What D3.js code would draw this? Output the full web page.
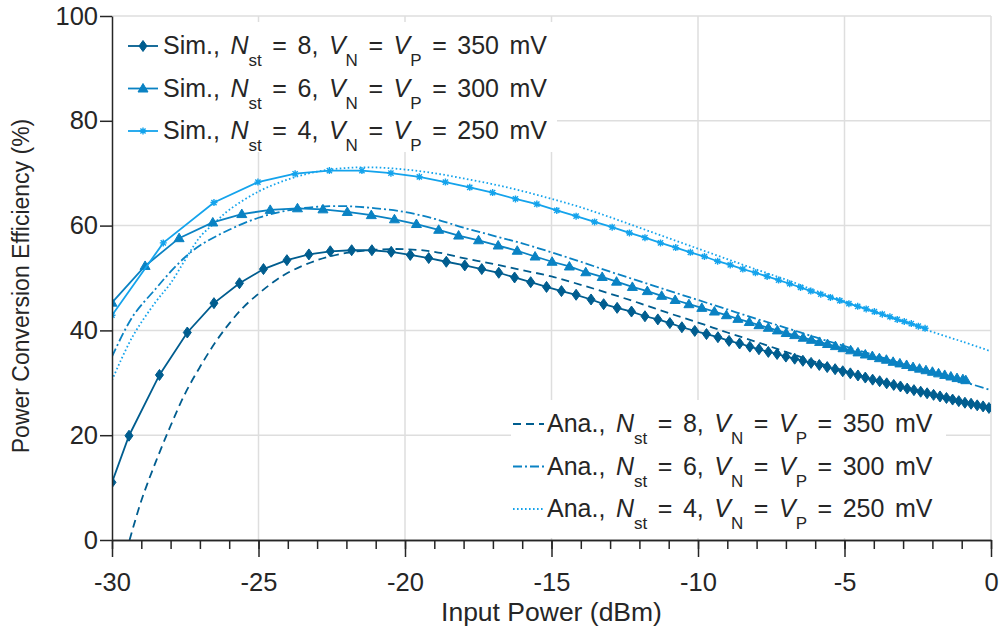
<!DOCTYPE html>
<html>
<head>
<meta charset="utf-8">
<script src="https://cdn.jsdelivr.net/npm/d3@7"></script>
<style>
body { margin: 0; background: #fff; }
text { font-family: "Liberation Sans", Arial, sans-serif; fill: #262626; }
</style>
</head>
<body>
<svg id="chart"></svg>
<script>
// simulated efficiency (input power dBm / efficiency %)
var simP8 = [-30, -29.42, -28.38, -27.43, -26.52, -25.65, -24.83, -24.03, -23.28, -22.55, -21.82, -21.13, -20.47, -19.82, -19.19,
	-18.59, -17.96, -17.38, -16.80, -16.26, -15.71, -15.17, -14.66, -14.16, -13.65, -13.22, -12.76, -12.27, -11.81, -11.37,
	-10.96, -10.55, -10.11, -9.71, -9.32, -8.94, -8.58, -8.23, -7.92, -7.60, -7.30, -7.00, -6.70, -6.42, -6.14, -5.86, -5.59,
	-5.32, -5.06, -4.80, -4.54, -4.29, -4.04, -3.80, -3.56, -3.32, -3.09, -2.86, -2.63, -2.40, -2.18, -1.96, -1.74, -1.52,
	-1.31, -1.10, -0.89, -0.68, -0.47, -0.27, -0.07];
var simE8 = [11.0, 19.9, 31.5, 39.6, 45.2, 49.0, 51.7, 53.4, 54.5, 55.1, 55.3, 55.3, 55.0, 54.4, 53.8,
	53.1, 52.4, 51.7, 51.0, 50.1, 49.2, 48.3, 47.5, 46.8, 45.9, 45.0, 44.3, 43.6, 42.7, 42.1,
	41.4, 40.6, 39.9, 39.3, 38.7, 38.0, 37.5, 36.9, 36.4, 35.9, 35.5, 35.0, 34.6, 34.2, 33.8, 33.4, 33.0,
	32.6, 32.2, 31.8, 31.4, 31.0, 30.6, 30.3, 29.9, 29.6, 29.3, 28.9, 28.6, 28.3, 28.0, 27.7, 27.4, 27.1,
	26.8, 26.5, 26.2, 26.0, 25.7, 25.5, 25.2];

var simP6 = [-30, -28.87, -27.71, -26.56, -25.57, -24.60, -23.67, -22.80, -21.97, -21.15, -20.36, -19.61, -18.85, -18.17,
	-17.49, -16.82, -16.17, -15.56, -14.98, -14.39, -13.83, -13.27, -12.78, -12.24, -11.73, -11.24, -10.78, -10.31, -9.87,
	-9.44, -9.03, -8.64, -8.25, -7.92, -7.60, -7.29, -6.99, -6.70, -6.41, -6.13, -5.85, -5.58, -5.31, -5.05, -4.79, -4.54,
	-4.29, -4.05, -3.81, -3.57, -3.34, -3.11, -2.88, -2.66, -2.44, -2.22, -2.00, -1.79, -1.58, -1.37, -1.16, -0.96, -0.86];
var simE6 = [45.3, 52.3, 57.6, 60.6, 62.2, 63.0, 63.3, 63.1, 62.6, 62.0, 61.2, 60.3, 59.2, 58.1,
	57.2, 56.2, 55.2, 54.1, 53.1, 52.2, 51.1, 50.2, 49.3, 48.3, 47.5, 46.6, 45.8, 45.0, 44.3,
	43.6, 42.9, 42.2, 41.6, 41.0, 40.5, 40.0, 39.5, 39.1, 38.6, 38.2, 37.8, 37.4, 37.0, 36.6, 36.2, 35.8,
	35.4, 35.1, 34.7, 34.4, 34.0, 33.7, 33.4, 33.0, 32.7, 32.4, 32.1, 31.8, 31.5, 31.2, 30.9, 30.7, 30.5];

var simP4 = [-30, -28.25, -26.52, -25.02, -23.75, -22.58, -21.47, -20.48, -19.51, -18.62, -17.79, -17.01, -16.23, -15.50,
	-14.82, -14.16, -13.53, -12.93, -12.34, -11.81, -11.28, -10.76, -10.26, -9.78, -9.33, -8.90, -8.47, -8.04, -7.64,
	-7.25, -6.87, -6.50, -6.15, -5.81, -5.48, -5.16, -4.85, -4.55, -4.26, -3.98, -3.71, -3.45, -3.20, -2.96, -2.72,
	-2.48, -2.25];
var simE4 = [42.9, 56.7, 64.4, 68.3, 69.9, 70.5, 70.5, 70.0, 69.3, 68.3, 67.3, 66.3, 65.1, 64.1,
	62.9, 61.8, 60.7, 59.7, 58.6, 57.7, 56.7, 55.8, 54.9, 54.1, 53.2, 52.5, 51.7, 51.0, 50.3,
	49.6, 48.9, 48.2, 47.5, 46.9, 46.3, 45.7, 45.1, 44.6, 44.1, 43.6, 43.1, 42.6, 42.1, 41.7, 41.3,
	40.8, 40.4];

// analytical model curves
var anaP8 = [-29.4, -29.0, -28.5, -28.0, -27.5, -27.0, -26.5, -26.0, -25.5, -25.0, -24.5, -24.0, -23.0, -22.0, -21.0, -20.0,
	-19.0, -18.0, -17.0, -16.0, -15.0, -14.0, -13.0, -12.0, -11.0, -10.0, -9.0, -8.0, -7.0, -6.0, -5.0, -4.0, -3.0, -2.0, -1.0, 0];
var anaE8 = [0, 7.5, 15.0, 21.8, 28.0, 33.0, 37.5, 41.3, 44.5, 47.0, 49.2, 51.0, 53.4, 54.8, 55.4, 55.5,
	55.0, 53.8, 52.7, 51.5, 50.3, 48.7, 47.0, 45.2, 43.3, 41.5, 39.6, 37.8, 35.9, 34.0, 32.3, 30.6, 29.2, 27.8, 26.5, 25.2];

var anaP6 = [-30, -29.3, -28.5, -28.0, -27.5, -27.0, -26.0, -25.0, -24.0, -23.0, -22.0, -21.0, -20.0, -19.0, -18.0, -17.0,
	-16.0, -15.0, -14.0, -13.0, -12.0, -11.0, -10.0, -9.0, -8.0, -7.0, -6.0, -5.0, -4.0, -3.0, -2.0, -1.0, 0];
var anaE6 = [35.0, 42.6, 48.0, 51.2, 54.0, 56.2, 59.2, 61.5, 62.9, 63.6, 63.7, 63.3, 62.6, 61.3, 59.6, 58.1,
	56.6, 54.9, 53.1, 51.2, 49.4, 47.6, 45.8, 44.0, 42.2, 40.5, 38.7, 37.0, 35.3, 33.6, 32.0, 30.3, 28.6];

var anaP4 = [-30, -29.3, -28.5, -28.0, -27.5, -27.0, -26.5, -26.0, -25.0, -24.0, -23.0, -22.0, -21.0, -20.0, -19.0, -18.0,
	-17.0, -16.0, -15.0, -14.0, -13.0, -12.0, -11.0, -10.0, -9.0, -8.0, -7.0, -6.0, -5.0, -4.0, -3.0, -2.0, -1.0, 0];
var anaE4 = [30.5, 38.8, 45.5, 49.0, 53.5, 57.8, 60.5, 63.0, 66.5, 68.8, 70.3, 71.0, 71.1, 70.7, 70.0, 69.0,
	67.9, 66.6, 65.1, 63.5, 61.6, 59.6, 57.6, 55.6, 53.6, 51.6, 49.7, 47.6, 45.6, 43.5, 41.6, 39.7, 37.9, 36.0];

var stages = [8, 6, 4];
var voltages = [350, 300, 250];
var xMajorTicks = [-30, -25, -20, -15, -10, -5, 0];
var xMinorTicks = d3.range(-30, 1, 1);
var yTicks = [0, 20, 40, 60, 80, 100];

var width = 999,
	height = 635;
var colors = ["#005d8f", "#0a82c3", "#14a3ec"];

var svg = d3.select("#chart")
	.attr("width", width)
	.attr("height", height);

var x = d3.scaleLinear().domain([-30, 0]).range([112, 991]);
var y = d3.scaleLinear().domain([0, 100]).range([540, 16]);

svg.append("defs").append("clipPath").attr("id", "plotclip")
	.append("rect")
	.attr("x", x(-30)).attr("y", y(100))
	.attr("width", x(0) - x(-30)).attr("height", y(0) - y(100));

// grid
var grid = svg.append("g").attr("stroke", "#dedede").attr("stroke-width", 1.5);
grid.selectAll(".gx").data(xMajorTicks.slice(1)).enter().append("line")
	.attr("x1", function (d) { return x(d); }).attr("x2", function (d) { return x(d); })
	.attr("y1", y(0)).attr("y2", y(100));
grid.selectAll(".gy").data(yTicks.slice(1)).enter().append("line")
	.attr("y1", function (d) { return y(d); }).attr("y2", function (d) { return y(d); })
	.attr("x1", x(-30)).attr("x2", x(0));

// white legend backgrounds hide the grid
svg.append("rect").attr("x", 113).attr("y", 22).attr("width", 444).attr("height", 130).attr("fill", "#fff");
svg.append("rect").attr("x", 511).attr("y", 400).attr("width", 435).attr("height", 138).attr("fill", "#fff");

var plot = svg.append("g").attr("clip-path", "url(#plotclip)");

var simSets = [[simP8, simE8], [simP6, simE6], [simP4, simE4]];
var anaSets = [[anaP8, anaE8], [anaP6, anaE6], [anaP4, anaE4]];
var dashes = ["8,5", "9,3,2,3", "1.6,2.4"];

var simLine = d3.line().x(function (d) { return x(d[0]); }).y(function (d) { return y(d[1]); });
var anaLine = d3.line().x(function (d) { return x(d[0]); }).y(function (d) { return y(d[1]); })
	.curve(d3.curveCatmullRom);

function zip(a, b) {
	return a.map(function (v, i) { return [v, b[i]]; });
}

// marker shapes: diamond, triangle, asterisk
function drawMarker(g, k, color) {
	if (k == 0) {
		g.append("path").attr("d", "M0,-5.5L4,0L0,5.5L-4,0Z").attr("fill", color).attr("stroke", color).attr("stroke-width", 1);
	} else if (k == 1) {
		g.append("path").attr("d", "M0,-5L5,3.5L-5,3.5Z").attr("fill", color).attr("stroke", color).attr("stroke-width", 1);
	} else {
		g.append("path").attr("d", "M-3.5,0H3.5M0,-3.5V3.5M-2.6,-2.6L2.6,2.6M-2.6,2.6L2.6,-2.6")
			.attr("stroke", color).attr("stroke-width", 1.4).attr("fill", "none");
	}
}

anaSets.forEach(function (s, k) {
	plot.append("path")
		.datum(zip(s[0], s[1]))
		.attr("d", anaLine)
		.attr("fill", "none")
		.attr("stroke", colors[k])
		.attr("stroke-width", 1.8)
		.attr("stroke-dasharray", dashes[k]);
});

simSets.forEach(function (s, k) {
	var pts = zip(s[0], s[1]);
	plot.append("path")
		.datum(pts)
		.attr("d", simLine)
		.attr("fill", "none")
		.attr("stroke", colors[k])
		.attr("stroke-width", 1.8);
	plot.selectAll(".m" + k).data(pts).enter().append("g")
		.attr("class", "m" + k)
		.attr("transform", function (d) { return "translate(" + x(d[0]) + "," + y(d[1]) + ")"; })
		.each(function () { drawMarker(d3.select(this), k, colors[k]); });
});

// axes
var xAxis = svg.append("g")
	.attr("transform", "translate(0," + y(0) + ")")
	.call(d3.axisBottom(x).tickValues(xMajorTicks).tickSize(17).tickSizeOuter(0).tickPadding(16)
		.tickFormat(function (d) { return String(d); }));
var xMinor = svg.append("g")
	.attr("transform", "translate(0," + y(0) + ")")
	.call(d3.axisBottom(x).tickValues(xMinorTicks).tickSize(9).tickSizeOuter(0).tickFormat(""));
var yAxis = svg.append("g")
	.attr("transform", "translate(" + x(-30) + ",0)")
	.call(d3.axisLeft(y).tickValues(yTicks).tickSize(12).tickSizeOuter(0).tickPadding(2));

[xAxis, xMinor, yAxis].forEach(function (a) {
	a.select(".domain").attr("stroke", "#262626").attr("stroke-width", 1.5);
	a.selectAll(".tick line").attr("stroke", "#262626").attr("stroke-width", 1.5);
	a.selectAll(".tick text").attr("font-size", 25.5).attr("font-family", null).style("fill", "#262626");
});

svg.append("text")
	.attr("x", (x(-30) + x(0)) / 2).attr("y", 621)
	.attr("text-anchor", "middle").attr("font-size", 26.5)
	.text("Input Power (dBm)");
svg.append("text")
	.attr("transform", "translate(29,286) rotate(-90)")
	.attr("text-anchor", "middle").attr("font-size", 23)
	.text("Power Conversion Efficiency (%)");

// legends
function legendText(g, tx, ty, prefix, n, v) {
	var t = g.append("text").attr("x", tx).attr("y", ty).attr("font-size", 25)
		.attr("xml:space", "preserve").style("word-spacing", "3.6px");
	var parts = [
		[prefix + ", ", 0, null], ["N", 0, "italic"], ["st", 1, null], [" = " + n + ", ", -1, null],
		["V", 0, "italic"], ["N", 1, null], [" = ", -1, null], ["V", 0, "italic"], ["P", 1, null],
		[" = " + v + " mV", -1, null]
	];
	parts.forEach(function (p) {
		var s = t.append("tspan").text(p[0]);
		if (p[2]) s.attr("font-style", p[2]);
		if (p[1] == 1) s.attr("dy", 12).attr("font-size", 17);
		if (p[1] == -1) s.attr("dy", -12);
	});
}

var legTop = svg.append("g");
stages.forEach(function (n, k) {
	var cy = 46 + k * 42.5;
	legTop.append("line").attr("x1", 128).attr("x2", 158).attr("y1", cy).attr("y2", cy)
		.attr("stroke", colors[k]).attr("stroke-width", 1.8);
	drawMarker(legTop.append("g").attr("transform", "translate(143," + cy + ")"), k, colors[k]);
	legendText(legTop, 163, cy + 8, "Sim.", n, voltages[k]);
});

var legBot = svg.append("g");
stages.forEach(function (n, k) {
	var cy = 424 + k * 42.5;
	legBot.append("line").attr("x1", 513).attr("x2", 544).attr("y1", cy).attr("y2", cy)
		.attr("stroke", colors[k]).attr("stroke-width", 1.8).attr("stroke-dasharray", dashes[k]);
	legendText(legBot, 547, cy + 8, "Ana.", n, voltages[k]);
});
</script>
</body>
</html>
